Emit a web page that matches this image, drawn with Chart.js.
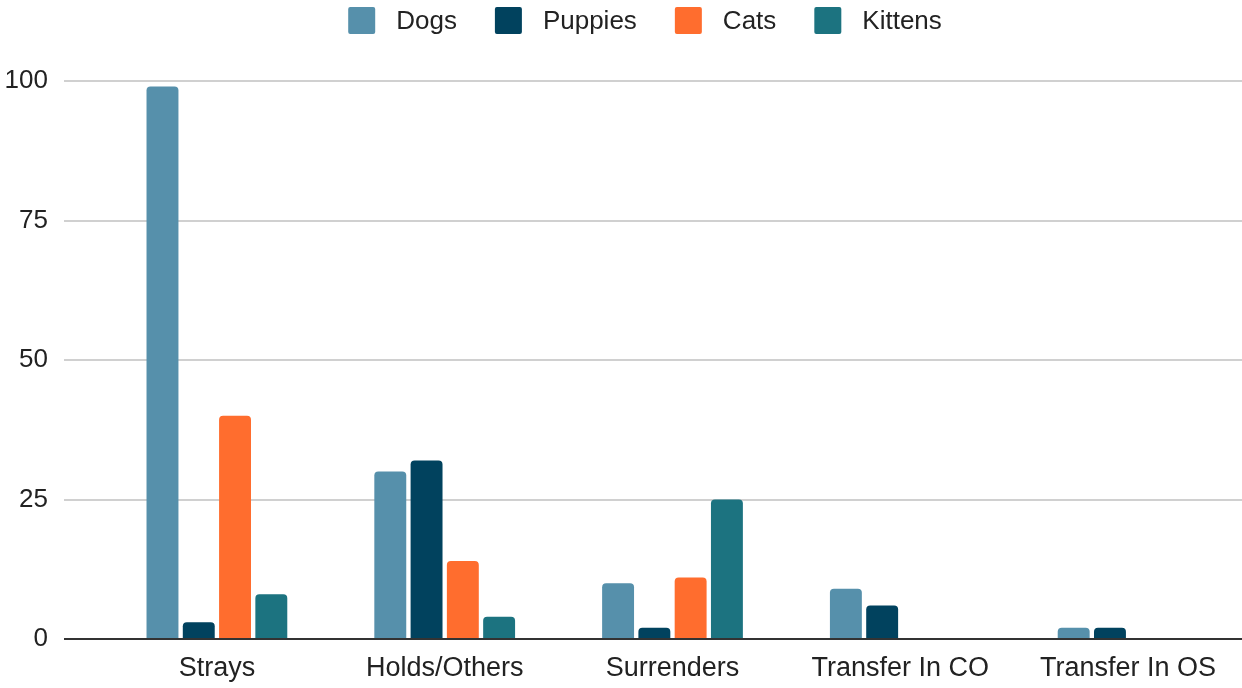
<!DOCTYPE html>
<html lang="en">
<head>
    <meta charset="UTF-8">
    <title>Intake by Type</title>
    <script src="https://cdn.jsdelivr.net/npm/chart.js"></script>
    <style>
        html, body {
            margin: 0;
            padding: 0;
            background: #ffffff;
        }
        #chartWrap {
            width: 1242px;
            height: 688px;
        }
    </style>
</head>
<body>
    <div id="chartWrap">
        <canvas id="intakeChart"></canvas>
    </div>
    <script>
        const categories = ['Strays', 'Holds/Others', 'Surrenders', 'Transfer In CO', 'Transfer In OS'];
        const dogs = [99, 30, 10, 9, 2];
        const puppies = [3, 32, 2, 6, 2];
        const cats = [40, 14, 11, 0, 0];
        const kittens = [8, 4, 25, 0, 0];
        const yTicks = [0, 25, 50, 75, 100];

        const font = "'Liberation Sans', Arial, sans-serif";

        function makeSet(label, values, color) {
            return {
                label: label,
                data: values,
                backgroundColor: color,
                borderRadius: { topLeft: 4, topRight: 4, bottomLeft: 0, bottomRight: 0 },
                borderSkipped: 'start',
                categoryPercentage: 0.637,
                barPercentage: 0.88
            };
        }

        // one-row legend across the top: square swatch, gap, label
        const topLegend = {
            id: 'topLegend',
            afterDraw(chart, args, opts) {
                const c = chart.ctx;
                const sets = chart.data.datasets;
                c.save();
                c.font = opts.size + 'px ' + font;
                c.textBaseline = 'middle';
                c.textAlign = 'left';
                const widths = sets.map(ds => opts.box + opts.gap + c.measureText(ds.label).width);
                const total = widths.reduce((a, b) => a + b, 0) + opts.spacing * (sets.length - 1);
                let x = opts.centerX - total / 2;
                sets.forEach((ds, i) => {
                    c.fillStyle = ds.backgroundColor;
                    c.beginPath();
                    c.roundRect(x, opts.top, opts.box, opts.box, 2);
                    c.fill();
                    c.fillStyle = '#222';
                    c.fillText(ds.label, x + opts.box + opts.gap, opts.top + opts.box / 2 + 1);
                    x += widths[i] + opts.spacing;
                });
                c.restore();
            }
        };

        const ctx = document.getElementById('intakeChart').getContext('2d');
        new Chart(ctx, {
            type: 'bar',
            data: {
                labels: categories,
                datasets: [
                    makeSet('Dogs', dogs, '#5690ab'),
                    makeSet('Puppies', puppies, '#01425e'),
                    makeSet('Cats', cats, '#ff6d2e'),
                    makeSet('Kittens', kittens, '#1c7380')
                ]
            },
            plugins: [topLegend],
            options: {
                responsive: true,
                maintainAspectRatio: false,
                animation: false,
                layout: {
                    padding: { left: 4, right: 0, top: 81, bottom: 0 }
                },
                plugins: {
                    legend: { display: false },
                    tooltip: { enabled: false },
                    topLegend: {
                        size: 26,
                        box: 27,
                        gap: 21,
                        spacing: 38,
                        top: 7,
                        centerX: 645
                    }
                },
                scales: {
                    x: {
                        afterFit: axis => { axis.height = 49; },
                        grid: { display: false, drawTicks: false },
                        border: { display: true, color: '#333', width: 2 },
                        ticks: {
                            color: '#222',
                            padding: 13,
                            font: { family: font, size: 27 }
                        }
                    },
                    y: {
                        min: 0,
                        max: 100,
                        afterBuildTicks: axis => {
                            axis.ticks = yTicks.map(v => ({ value: v }));
                        },
                        afterFit: axis => { axis.width = 99; },
                        grid: {
                            color: c => c.tick && c.tick.value === 0 ? '#333333' : '#d0d0d0',
                            lineWidth: 2,
                            drawTicks: true,
                            tickLength: 39
                        },
                        border: { display: false },
                        ticks: {
                            color: '#222',
                            padding: 16,
                            font: { family: font, size: 26 }
                        }
                    }
                }
            }
        });
    </script>
</body>
</html>
